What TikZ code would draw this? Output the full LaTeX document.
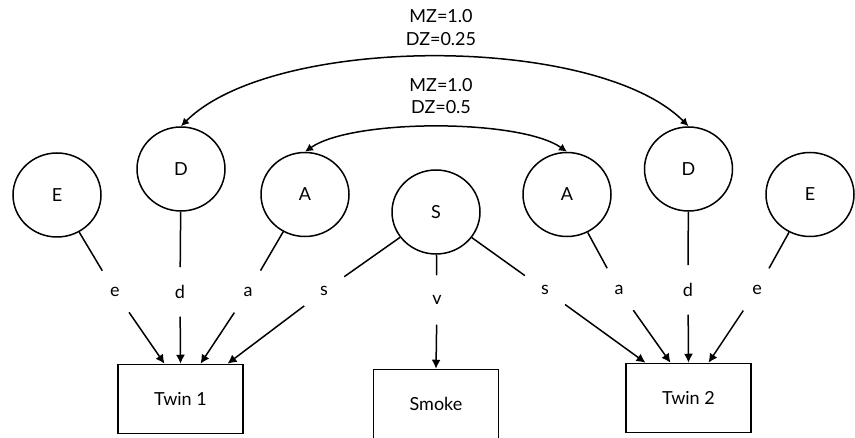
\documentclass[tikz,border=0pt]{standalone}
\usepackage{fontspec}
\setmainfont{Lato}
\usetikzlibrary{arrows.meta,shapes.geometric}

\begin{document}
\begin{tikzpicture}[x=1pt,y=1pt,line width=1.5pt,
		every node/.style={font=\fontsize{18}{22.5}\selectfont},
		latent/.style={draw,ellipse,minimum width=88pt,minimum height=84pt,inner sep=0pt},
		observed/.style={draw,rectangle,minimum width=125pt,minimum height=69pt},
		coef/.style={circle,inner sep=0pt,minimum size=48pt},
		arr/.style={-{Latex[length=9pt,width=9pt]}},
		dbl/.style={{Latex[length=8pt,width=8pt]}-{Latex[length=8pt,width=8pt]}}
		]%ACE-style twin model with smoking
		\useasboundingbox (0,0) rectangle (855,438);
		% latent factors
		\node[latent] (E1) at (57,243) {E};
		\node[latent] (D1) at (181,269) {D};
		\node[latent] (A1) at (305,243.5) {A};
		\node[latent] (S) at (436,226) {S};
		\node[latent] (A2) at (567,243.5) {A};
		\node[latent] (D2) at (688.5,269) {D};
		\node[latent] (E2) at (810,243.5) {E};
		% observed
		\node[observed] (T1) at (180.5,39) {Twin 1};
		\node[observed] (Sm) at (436,34) {Smoke};
		\node[observed] (T2) at (688.5,40) {Twin 2};
		% path coefficients
		\node[coef] (le1) at (115,146) {e};
		\node[coef] (ld1) at (180,146) {d};
		\node[coef] (la1) at (248,146) {a};
		\node[coef] (ls1) at (324,147) {s};
		\node[coef] (lv) at (437,138) {v};
		\node[coef] (ls2) at (545,148) {s};
		\node[coef] (la2) at (619,148) {a};
		\node[coef] (ld2) at (688,148) {d};
		\node[coef] (le2) at (757,148) {e};
		\foreach \f/\l in {E1/le1,D1/ld1,A1/la1,S/ls1,S/lv,S/ls2,A2/la2,D2/ld2,E2/le2}
			\draw (\f) -- (\l);
		\draw[arr] (le1) -- ([xshift=-16pt]T1.north);
		\draw[arr] (ld1) -- (T1.north);
		\draw[arr] (la1) -- ([xshift=20pt]T1.north);
		\draw[arr] (ls1) -- ([xshift=47pt]T1.north);
		\draw[arr] (lv) -- (Sm.north);
		\draw[arr] (ls2) -- ([xshift=-43pt]T2.north);
		\draw[arr] (la2) -- ([xshift=-18pt]T2.north);
		\draw[arr] (ld2) -- (T2.north);
		\draw[arr] (le2) -- ([xshift=20pt]T2.north);
		% correlations
		\draw[dbl] (D1.north) to[out=45,in=135,looseness=0.66] (D2.north);
		\draw[dbl] (A1.north) to[out=35,in=145,looseness=0.565] (A2.north);
		\node[align=center] (rD) at (441,410.5) {MZ=1.0\\DZ=0.25};
		\node[align=center] (rA) at (441,342) {MZ=1.0\\DZ=0.5};
		\end{tikzpicture}
\end{document}
